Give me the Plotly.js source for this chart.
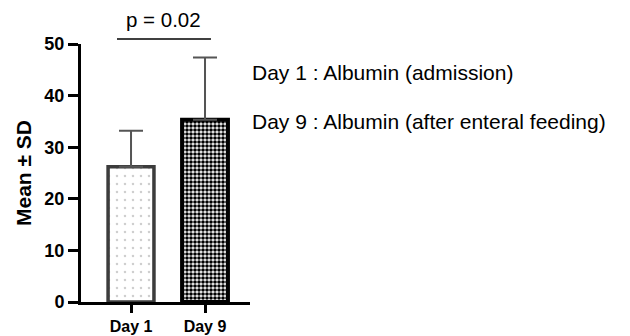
<!DOCTYPE html>
<html><head><meta charset="utf-8">
<script src="https://cdn.plot.ly/plotly-3.0.1.min.js"></script>
<style>body{margin:0;background:#fff}#c{width:630px;height:336px}</style>
</head><body><div id="c"></div>
<script>
const categories = ["Day 1", "Day 9"];
const means = [26.2, 35.3];
const sdUpper = [7.0, 12.1];
const yTicks = [0, 10, 20, 30, 40, 50];
const pText = "p = 0.02";
const legendLines = ["Day 1 : Albumin (admission)", "Day 9 : Albumin (after enteral feeding)"];

const traces = [
  {
    type: 'bar', x: [0], y: [means[0]], width: 0.62,
    marker: {color: '#ffffff', line: {color: '#3c3c3c', width: 3.5},
      pattern: {shape: '.', fgcolor: '#cfcfcf', size: 8, solidity: 0.08}},
    error_y: {type: 'data', array: [sdUpper[0]], arrayminus: [0], symmetric: false, color: '#555', thickness: 2, width: 12},
    hoverinfo: 'none'
  },
  {
    type: 'bar', x: [1], y: [means[1]], width: 0.62,
    marker: {color: '#ffffff', line: {color: '#000000', width: 4},
      pattern: {shape: '.', fgcolor: '#000000', size: 4, solidity: 0.65}},
    error_y: {type: 'data', array: [sdUpper[1]], arrayminus: [0], symmetric: false, color: '#555', thickness: 2, width: 12},
    hoverinfo: 'none'
  }
];

const fam = 'Liberation Sans, Arial, sans-serif';
const tickFont = {family: fam, size: 18, color: '#000', weight: 'bold'};
const xTickFont = {family: fam, size: 16, color: '#000', weight: 'bold'};
const regFont = {family: fam, size: 21, color: '#000'};

const layout = {
  width: 630, height: 336,
  margin: {l: 81, r: 380, t: 44, b: 34},
  paper_bgcolor: '#fff', plot_bgcolor: '#fff',
  showlegend: false,
  xaxis: {range: [-0.676, 1.608], tickvals: [0, 1], ticktext: categories,
    showline: true, linecolor: '#000', linewidth: 3, ticks: 'outside', ticklen: 8, tickwidth: 3, tickcolor: '#000',
    showgrid: false, zeroline: false, tickfont: xTickFont, fixedrange: true},
  yaxis: {range: [0, 50], tickvals: yTicks,
    showline: true, linecolor: '#000', linewidth: 3, ticks: 'outside', ticklen: 10, tickwidth: 3, tickcolor: '#000',
    showgrid: false, zeroline: false, tickfont: tickFont,
    title: {text: 'Mean ± SD', font: {family: fam, size: 21, color: '#000', weight: 'bold'}, standoff: 8},
    fixedrange: true},
  shapes: [
    {type: 'line', xref: 'paper', yref: 'paper', x0: 0.213, x1: 0.769, y0: 1.019, y1: 1.019, line: {color: '#000', width: 1.5}}
  ],
  annotations: [
    {xref: 'paper', yref: 'paper', x: 0.491, y: 1.095, text: pText, showarrow: false, font: {family: fam, size: 20.5, color: '#000'}, xanchor: 'center', yanchor: 'middle'},
    {xref: 'paper', yref: 'paper', x: 1.0, y: 0.891, text: legendLines[0], showarrow: false, font: regFont, xanchor: 'left', yanchor: 'middle'},
    {xref: 'paper', yref: 'paper', x: 1.0, y: 0.698, text: legendLines[1], showarrow: false, font: regFont, xanchor: 'left', yanchor: 'middle'}
  ]
};
Plotly.newPlot('c', traces, layout, {displayModeBar: false, staticPlot: true});
</script></body></html>
